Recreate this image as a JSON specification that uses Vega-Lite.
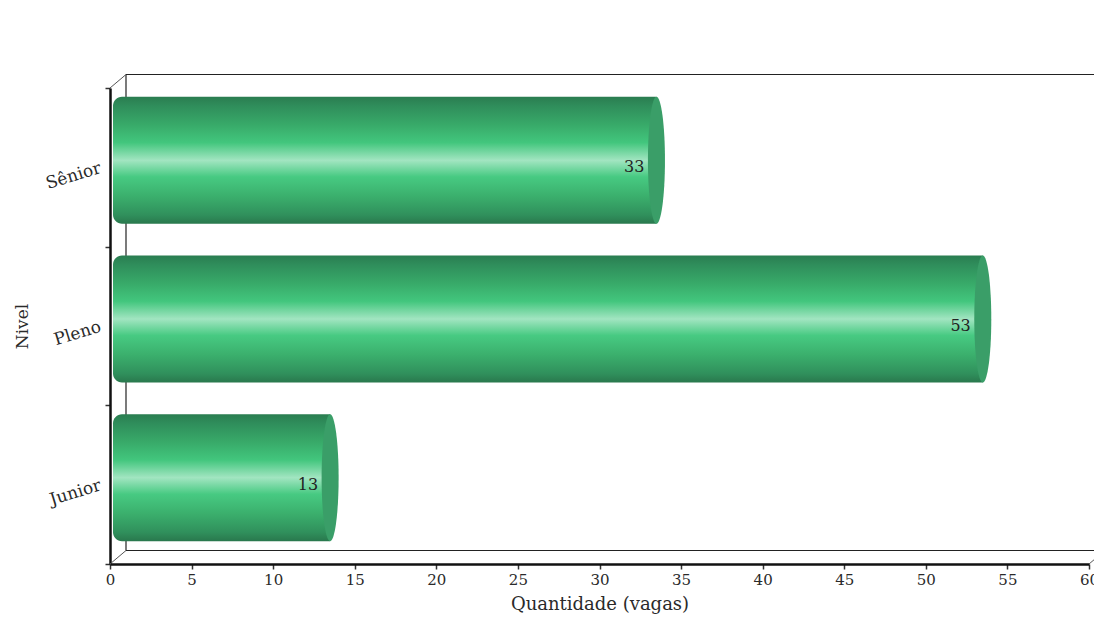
{
  "$schema": "https://vega.github.io/schema/vega-lite/v6.json",
  "width": 979,
  "height": 476,
  "autosize": {"type": "none"},
  "padding": {"left": 110, "top": 88, "right": 5, "bottom": 69},
  "background": "#ffffff",
  "config": {
    "view": {"stroke": null},
    "font": "DejaVu Serif",
    "axis": {
      "labelFont": "DejaVu Serif",
      "titleFont": "DejaVu Serif",
      "labelColor": "#2a2a2a",
      "titleColor": "#2a2a2a",
      "titleFontWeight": "normal",
      "domainColor": "#111111",
      "tickColor": "#333333",
      "grid": false
    }
  },
  "resolve": {"scale": {"y": "independent"}},
  "layer": [
    {
      "description": "Pseudo-3D frame: back wall edges and the receding diagonals",
      "data": {"values": [{}]},
      "layer": [
        {
          "mark": {"type": "rule", "color": "#222222", "strokeWidth": 1.2, "xOffset": 16, "yOffset": -13.5, "y2Offset": -13.5},
          "encoding": {
            "x": {"datum": 0, "type": "quantitative"},
            "y": {"datum": 0, "type": "quantitative", "scale": {"domain": [0, 1], "nice": false}, "axis": null},
            "y2": {"datum": 1}
          }
        },
        {
          "mark": {"type": "rule", "color": "#222222", "strokeWidth": 1.2, "xOffset": 16, "x2Offset": 16, "yOffset": -13.5},
          "encoding": {
            "x": {"datum": 0, "type": "quantitative"},
            "x2": {"datum": 60},
            "y": {"datum": 1, "type": "quantitative", "scale": {"domain": [0, 1], "nice": false}, "axis": null}
          }
        },
        {
          "mark": {"type": "rule", "color": "#222222", "strokeWidth": 1.2, "xOffset": 16, "x2Offset": 16, "yOffset": -13.5},
          "encoding": {
            "x": {"datum": 0, "type": "quantitative"},
            "x2": {"datum": 60},
            "y": {"datum": 0, "type": "quantitative", "scale": {"domain": [0, 1], "nice": false}, "axis": null}
          }
        },
        {
          "mark": {"type": "rule", "color": "#555555", "strokeWidth": 1, "x2Offset": 16, "y2Offset": -13.5},
          "encoding": {
            "x": {"datum": 0, "type": "quantitative"},
            "x2": {"datum": 0},
            "y": {"datum": 1, "type": "quantitative", "scale": {"domain": [0, 1], "nice": false}, "axis": null},
            "y2": {"datum": 1}
          }
        },
        {
          "mark": {"type": "rule", "color": "#555555", "strokeWidth": 1, "x2Offset": 16, "y2Offset": -13.5},
          "encoding": {
            "x": {"datum": 0, "type": "quantitative"},
            "x2": {"datum": 0},
            "y": {"datum": 0, "type": "quantitative", "scale": {"domain": [0, 1], "nice": false}, "axis": null},
            "y2": {"datum": 0}
          }
        },
        {
          "mark": {"type": "rule", "color": "#555555", "strokeWidth": 1, "x2Offset": 16, "y2Offset": -13.5},
          "encoding": {
            "x": {"datum": 60, "type": "quantitative"},
            "x2": {"datum": 60},
            "y": {"datum": 0, "type": "quantitative", "scale": {"domain": [0, 1], "nice": false}, "axis": null},
            "y2": {"datum": 0}
          }
        }
      ]
    },
    {
      "description": "Cylinder bars with value labels",
      "data": {
        "values": [
          {"nivel": "Sênior", "vagas": 33},
          {"nivel": "Pleno", "vagas": 53},
          {"nivel": "Junior", "vagas": 13}
        ]
      },
      "encoding": {
        "x": {
          "field": "vagas",
          "type": "quantitative",
          "scale": {"domain": [0, 60], "nice": false},
          "axis": {
            "title": "Quantidade (vagas)",
            "values": [0, 5, 10, 15, 20, 25, 30, 35, 40, 45, 50, 55, 60],
            "labelFontSize": 15,
            "titleFontSize": 18,
            "titlePadding": 8,
            "domainWidth": 2.5,
            "tickSize": 5,
            "tickWidth": 1.5,
            "labelPadding": 3,
            "labelFlush": false
          }
        },
        "y": {
          "field": "nivel",
          "type": "nominal",
          "sort": ["Sênior", "Pleno", "Junior"],
          "scale": {"paddingInner": 0, "paddingOuter": 0},
          "axis": {
            "title": "Nivel",
            "titleFontSize": 17,
            "titlePadding": 12,
            "labelAngle": -17,
            "labelAlign": "right",
            "labelBaseline": "middle",
            "labelFontSize": 17,
            "labelPadding": 5,
            "tickBand": "extent",
            "tickSize": 5,
            "tickWidth": 1.5,
            "domainWidth": 2.5
          }
        }
      },
      "layer": [
        {
          "mark": {
            "type": "bar",
            "height": {"band": 0.8},
            "xOffset": 8,
            "x2Offset": 3,
            "yOffset": -7,
            "y2Offset": -7,
            "cornerRadiusTopLeft": 9,
            "cornerRadiusBottomLeft": 9,
            "fill": {
              "gradient": "linear",
              "x1": 0, "y1": 0, "x2": 0, "y2": 1,
              "stops": [
                {"offset": 0, "color": "#2a7d50"},
                {"offset": 0.07, "color": "#2f8d5b"},
                {"offset": 0.22, "color": "#38aa69"},
                {"offset": 0.36, "color": "#42c67d"},
                {"offset": 0.5, "color": "#a2e5c1"},
                {"offset": 0.63, "color": "#47ca82"},
                {"offset": 0.78, "color": "#3bb06d"},
                {"offset": 0.93, "color": "#30905c"},
                {"offset": 1, "color": "#29784d"}
              ]
            }
          },
          "encoding": {"x2": {"datum": 0}}
        },
        {
          "mark": {
            "type": "point",
            "shape": "M0,-1 A0.134,1 0 1,1 0,1 A0.134,1 0 1,1 0,-1 Z",
            "size": 16129,
            "filled": true,
            "opacity": 1,
            "fill": "#3a9e68",
            "strokeWidth": 0,
            "xOffset": 8,
            "yOffset": -7
          }
        },
        {
          "mark": {
            "type": "text",
            "align": "right",
            "baseline": "middle",
            "dx": -4,
            "font": "DejaVu Serif",
            "fontSize": 16,
            "color": "#222222"
          },
          "encoding": {"text": {"field": "vagas", "type": "quantitative"}}
        }
      ]
    }
  ]
}
